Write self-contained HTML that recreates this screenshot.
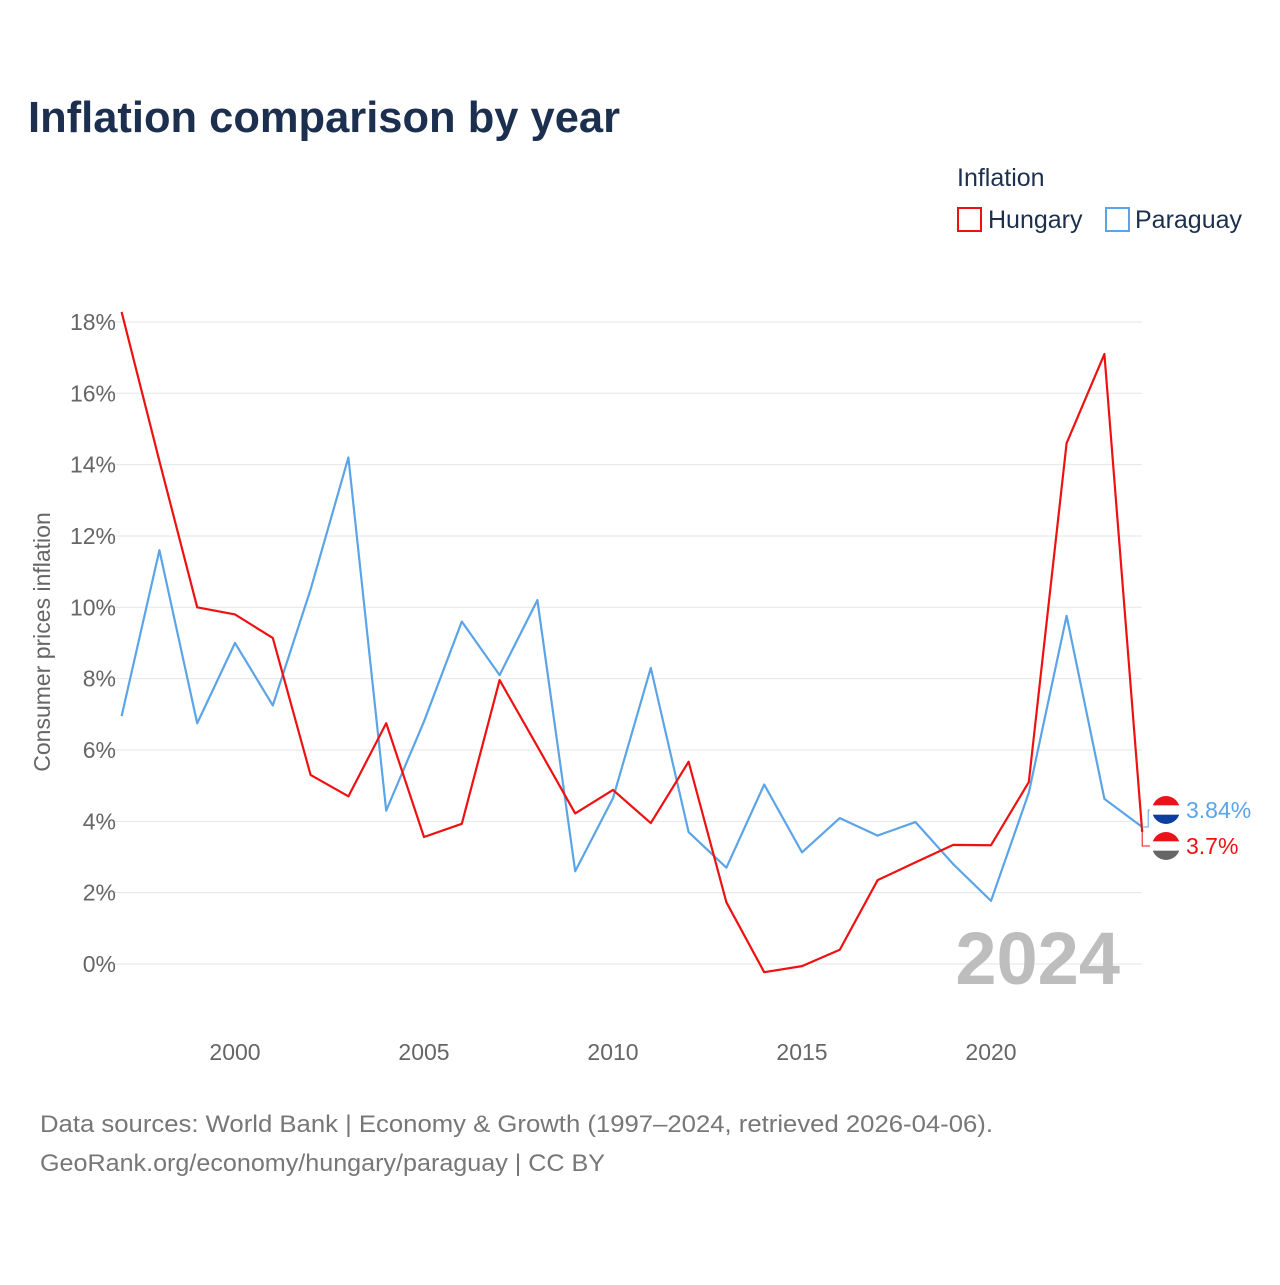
<!DOCTYPE html>
<html><head><meta charset="utf-8"><style>
body{margin:0;background:#fff;font-family:"Liberation Sans",sans-serif;}
</style></head><body>
<svg id="chart" width="1280" height="1280" xmlns="http://www.w3.org/2000/svg" font-family="Liberation Sans, sans-serif">
<text x="28" y="132" font-size="44" font-weight="bold" fill="#1c2f4f" textLength="592" lengthAdjust="spacingAndGlyphs">Inflation comparison by year</text>
<text x="957" y="186" font-size="25" fill="#1c2f4f">Inflation</text>
<g><rect x="958" y="208" width="23" height="23" fill="none" stroke="#ee1111" stroke-width="2"/><text x="988" y="228" font-size="25" fill="#1c2f4f">Hungary</text></g>
<g><rect x="1106" y="208" width="23" height="23" fill="none" stroke="#5ba4e8" stroke-width="2"/><text x="1135" y="228" font-size="25" fill="#1c2f4f">Paraguay</text></g>
<g id="grid"></g><g id="yticks"></g><g id="xticks"></g>
<text transform="translate(50,642) rotate(-90)" text-anchor="middle" font-size="23" fill="#666">Consumer prices inflation</text>
<text x="1120" y="984" text-anchor="end" font-size="74" font-weight="bold" fill="#bdbdbd">2024</text>
<g id="series"></g>
<text x="40" y="1132" font-size="24" fill="#777" textLength="953" lengthAdjust="spacingAndGlyphs">Data sources: World Bank | Economy &amp; Growth (1997–2024, retrieved 2026-04-06).</text>
<text x="40" y="1171" font-size="24" fill="#777" textLength="565" lengthAdjust="spacingAndGlyphs">GeoRank.org/economy/hungary/paraguay | CC BY</text>
</svg>
<script>
const years=[1997,1998,1999,2000,2001,2002,2003,2004,2005,2006,2007,2008,2009,2010,2011,2012,2013,2014,2015,2016,2017,2018,2019,2020,2021,2022,2023,2024];
const hungary=[18.28,14.1,10.0,9.8,9.14,5.3,4.7,6.75,3.56,3.93,7.96,6.1,4.22,4.88,3.95,5.67,1.73,-0.23,-0.06,0.4,2.35,2.85,3.34,3.33,5.1,14.6,17.1,3.7];
const paraguay=[6.95,11.6,6.75,9.0,7.25,10.5,14.2,4.3,6.8,9.6,8.1,10.2,2.6,4.65,8.3,3.7,2.7,5.03,3.13,4.09,3.6,3.98,2.8,1.77,4.8,9.76,4.63,3.84];
const yTicks=[0,2,4,6,8,10,12,14,16,18];
const xTicks=[2000,2005,2010,2015,2020];
const NS="http://www.w3.org/2000/svg";
const X=y=>121.6+(y-1997)*37.8;
const Y=v=>964-v*35.67;
function mk(t,a,p){const e=document.createElementNS(NS,t);for(const k in a)e.setAttribute(k,a[k]);p.appendChild(e);return e;}
const g=document.getElementById('grid'),yt=document.getElementById('yticks'),xt=document.getElementById('xticks'),s=document.getElementById('series');
yTicks.forEach(v=>{
 const l=mk('line',{x1:100,x2:1142,y1:Y(v),y2:Y(v),stroke:'#e6e6e6','stroke-width':1},g);
 
 
 const t=mk('text',{x:116,y:Y(v)+8,'text-anchor':'end','font-size':23,fill:'#666'},yt);t.textContent=v+'%';
 
 
});
xTicks.forEach(v=>{
 const t=mk('text',{x:X(v),y:1060,'text-anchor':'middle','font-size':23,fill:'#666'},xt);t.textContent=v;
 
 
});
function line(vals,color,name){
 const p=mk('polyline',{points:vals.map((v,i)=>X(years[i])+','+Y(v)).join(' '),fill:'none',stroke:color,'stroke-width':2.2,'stroke-linejoin':'round'},s);
 
 
}
line(paraguay,'#5ba4e8','paraguay-line');
line(hungary,'#ee1111','hungary-line');
const lx=X(2024);
function flag(cy,cols,name){
 const gg=mk('g',{},s);
 
 
 const id=name+'-clip';const d=mk('clipPath',{id:id},gg);mk('circle',{cx:1166,cy:cy,r:14},d);
 cols.forEach((c,i)=>mk('rect',{x:1152,y:cy-14+i*28/3,width:28,height:28/3+0.5,fill:c,'clip-path':'url(#'+id+')'},gg));
}
const pY=810,hY=846;
mk('polyline',{points:lx+','+Y(paraguay[27])+' '+(lx+6)+','+Y(paraguay[27])+' '+(lx+6)+','+pY+' '+1150+','+pY,fill:'none',stroke:'#5ba4e8','stroke-width':1},s);
mk('polyline',{points:lx+','+Y(hungary[27])+' '+lx+','+hY+' '+1150+','+hY,fill:'none',stroke:'#ee1111','stroke-width':1},s);
flag(pY,['#e8141c','#ffffff','#0c3fa0'],'paraguay-flag');
flag(hY,['#e8141c','#ffffff','#666666'],'hungary-flag');
let t=mk('text',{x:1186,y:pY+8,'font-size':23,fill:'#5ba4e8'},s);t.textContent=paraguay[27]+'%';


t=mk('text',{x:1186,y:hY+8,'font-size':23,fill:'#ee1111'},s);t.textContent=hungary[27]+'%';


</script>
</body></html>
